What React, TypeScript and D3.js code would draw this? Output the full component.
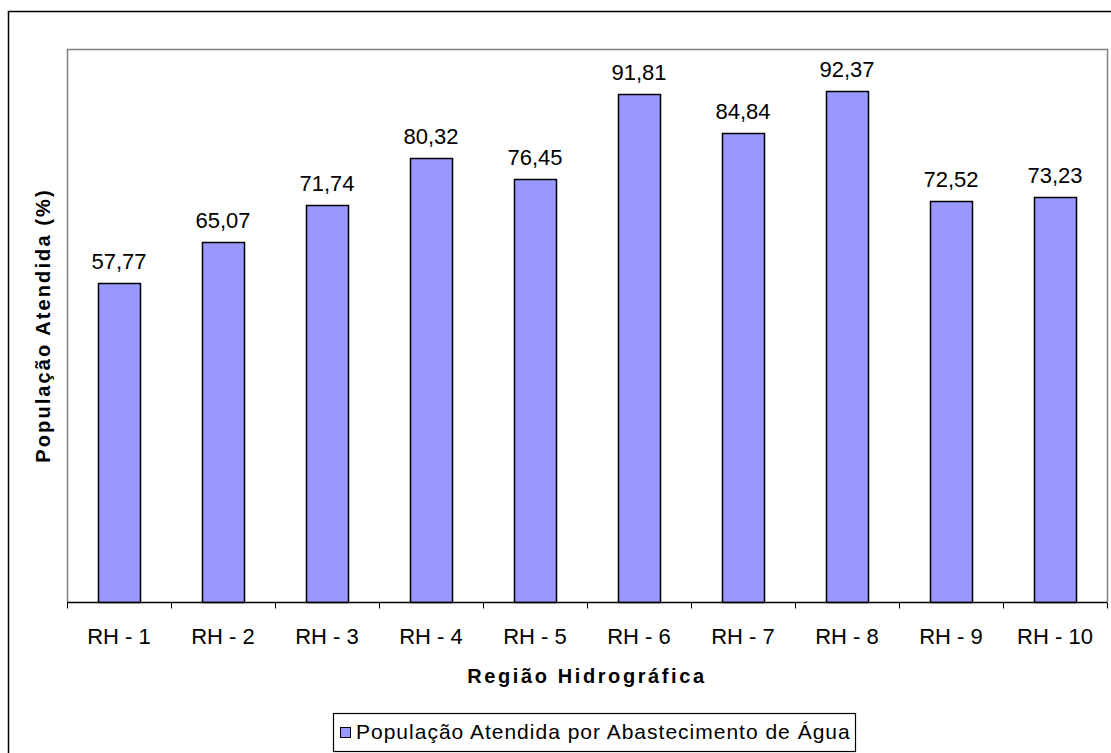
import React, { useEffect, useRef } from "react";
import * as d3 from "d3";

const categories = ["RH - 1", "RH - 2", "RH - 3", "RH - 4", "RH - 5", "RH - 6", "RH - 7", "RH - 8", "RH - 9", "RH - 10"];
const values = [57.77, 65.07, 71.74, 80.32, 76.45, 91.81, 84.84, 92.37, 72.52, 73.23];
const seriesName = "População Atendida por Abastecimento de Água";

const width = 1111;
const height = 753;
const margin = { left: 67, right: 4, top: 49, bottom: 151 };
const font = "'Liberation Sans', Arial, sans-serif";

export default function App() {
  const ref = useRef<SVGSVGElement>(null);

  useEffect(() => {
    const svg = d3.select(ref.current);
    svg.selectAll("*").remove();

    const x0 = margin.left;
    const x1 = width - margin.right;
    const y0 = height - margin.bottom;
    const y1 = margin.top;

    const x = d3.scaleBand().domain(categories).range([x0, x1]).paddingInner(0.6).paddingOuter(0.3);
    const band = d3.scaleBand().domain(categories).range([x0, x1]);
    const y = d3.scaleLinear().domain([0, 100]).range([y0, y1]);

    // outer chart border (runs past the right/bottom edge)
    svg.append("rect")
      .attr("x", 8.5).attr("y", 11.5)
      .attr("width", width + 20).attr("height", height + 20)
      .attr("fill", "white").attr("stroke", "#000").attr("stroke-width", 1.5);

    // plot area
    svg.append("path")
      .attr("d", `M${x0 + 0.5},${y0} V${y1 + 0.5} H${x1 + 0.5} V${y0}`)
      .attr("fill", "none").attr("stroke", "#808080").attr("stroke-width", 1.5);

    svg.append("g").selectAll("rect").data(values).enter().append("rect")
      .attr("x", (_, i) => Math.round(x(categories[i])!) + 0.5)
      .attr("y", (d) => Math.round(y(d)) + 0.5)
      .attr("width", Math.round(x.bandwidth()))
      .attr("height", (d) => y0 - Math.round(y(d)))
      .attr("fill", "#9999FF").attr("stroke", "#000").attr("stroke-width", 1.5);

    // x axis
    const axis = svg.append("g").attr("transform", `translate(0,${y0 + 0.5})`);
    axis.append("line").attr("x1", x0).attr("x2", x1).attr("stroke", "#000").attr("stroke-width", 1.5);
    const ticks = categories.map((c) => band(c)!).concat([x1]);
    axis.selectAll("line.tick").data(ticks).enter().append("line")
      .attr("class", "tick")
      .attr("x1", (d) => Math.round(d) + 0.5).attr("x2", (d) => Math.round(d) + 0.5)
      .attr("y1", 0).attr("y2", 6).attr("stroke", "#000");
    axis.selectAll("text").data(categories).enter().append("text")
      .attr("x", (d) => band(d)! + band.bandwidth() / 2)
      .attr("y", 41)
      .attr("text-anchor", "middle")
      .attr("font-family", font).attr("font-size", 22)
      .text((d) => d);

    // value labels
    svg.append("g").selectAll("text").data(values).enter().append("text")
      .attr("x", (_, i) => x(categories[i])! + x.bandwidth() / 2)
      .attr("y", (d) => y(d) - 14)
      .attr("text-anchor", "middle")
      .attr("font-family", font).attr("font-size", 22)
      .text((d) => d.toFixed(2).replace(".", ","));

    // axis titles
    svg.append("text")
      .attr("x", (x0 + x1) / 2).attr("y", 683)
      .attr("text-anchor", "middle")
      .attr("font-family", font).attr("font-size", 20).attr("font-weight", "bold")
      .attr("letter-spacing", 2.6)
      .text("Região Hidrográfica");
    svg.append("text")
      .attr("transform", `translate(50,${(y0 + y1) / 2}) rotate(-90)`)
      .attr("text-anchor", "middle")
      .attr("font-family", font).attr("font-size", 20).attr("font-weight", "bold")
      .attr("letter-spacing", 2.1)
      .text("População Atendida (%)");

    // legend
    const lg = svg.append("g");
    lg.append("rect")
      .attr("x", 333.5).attr("y", 713.5).attr("width", 522).attr("height", 38)
      .attr("fill", "white").attr("stroke", "#000").attr("stroke-width", 1.2);
    lg.append("rect")
      .attr("x", 340.5).attr("y", 727.5).attr("width", 10).attr("height", 10)
      .attr("fill", "#9999FF").attr("stroke", "#000");
    lg.append("text")
      .attr("x", 356).attr("y", 739)
      .attr("font-family", font).attr("font-size", 21).attr("letter-spacing", 1)
      .text(seriesName);
  }, []);

  return (
    <svg ref={ref} width={width} height={height}
      style={{ position: "absolute", left: 0, top: 0, background: "white" }} />
  );
}
